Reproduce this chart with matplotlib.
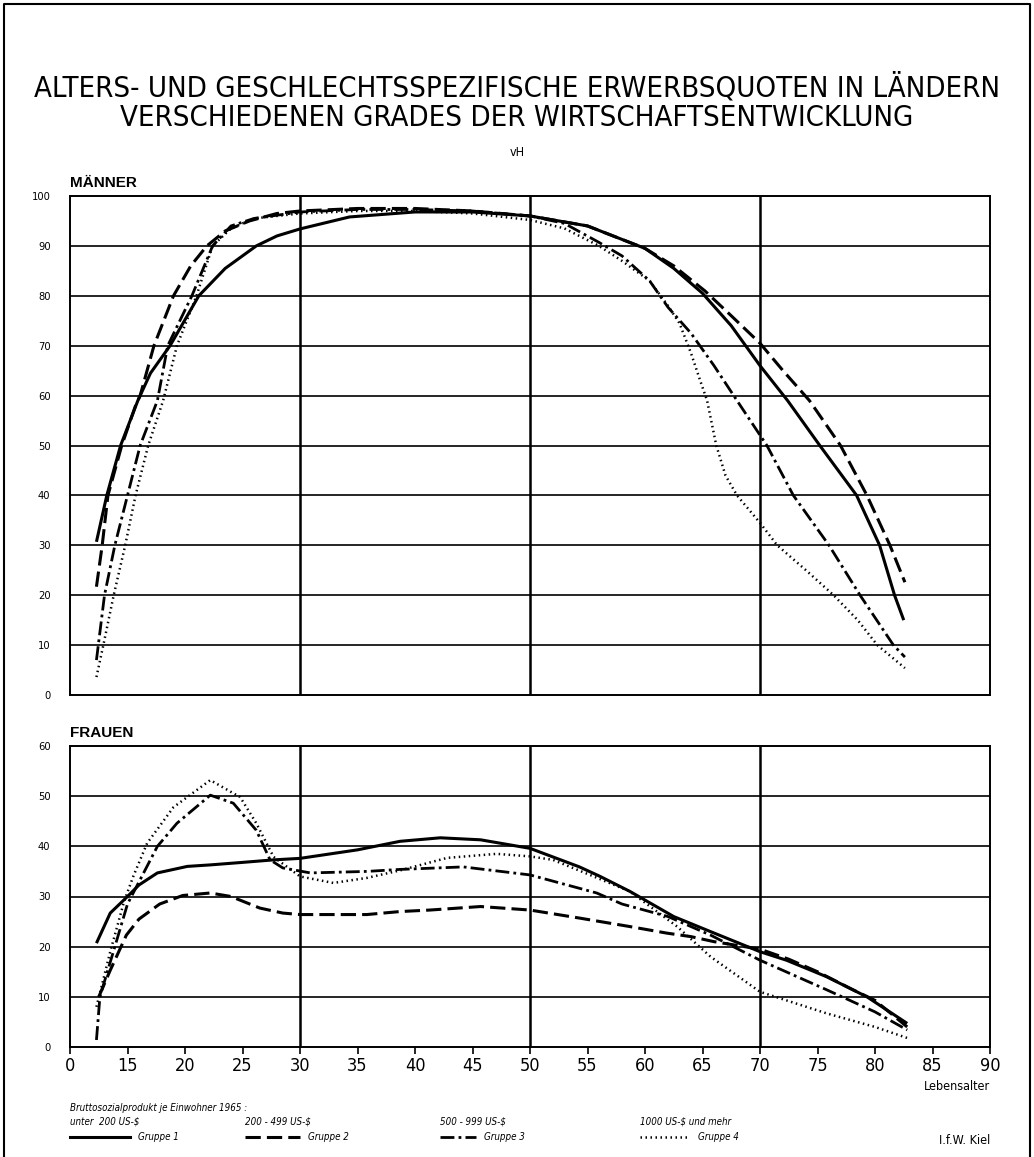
import matplotlib
matplotlib.use('Agg')
import matplotlib.pyplot as plt
from matplotlib import font_manager
from matplotlib.lines import Line2D

# look for a narrow face, else use Liberation Sans
narrow = None
for f in font_manager.fontManager.ttflist:
    if 'Narrow' in f.name or f.stretch in ('condensed', 'semi-condensed', 'extra-condensed'):
        narrow = f
        break
if narrow is not None:
    plt.rcParams['font.family'] = [narrow.name, 'DejaVu Sans']
    plt.rcParams['font.stretch'] = narrow.stretch
    title_fs = 21
else:
    plt.rcParams['font.family'] = ['Liberation Sans', 'DejaVu Sans']
    title_fs = 18.5

# Männer
m1_age = [12.3, 13.2, 14.4, 15.9, 17, 18.7, 21.2, 23.5, 26.2, 28, 30, 34.3, 40, 45, 50, 55, 60, 62.5, 65, 67.5, 70, 72.4, 75.2, 78.4, 80.4, 81.7, 82.5]
m1_val = [30.7, 40, 50, 59, 64.5, 70, 80, 85.5, 90, 92, 93.4, 95.8, 96.8, 96.8, 96, 94, 89.5, 85.5, 80.5, 74, 66, 59, 50, 40, 30, 20, 15]
m2_age = [12.3, 12.8, 13.3, 14.5, 15.7, 16.1, 17.3, 19, 20.5, 21.9, 23.5, 25.6, 28, 30, 35, 40, 45, 50, 55, 60, 62.5, 65.2, 67.5, 70, 72, 74.3, 77, 79.3, 81.3, 82.6]
m2_val = [21.7, 30, 40, 50, 58, 60, 70, 80, 86, 90, 93, 95, 96.5, 97, 97.5, 97.5, 97, 96, 94, 89.5, 86, 81, 76, 70.5, 65, 59, 50, 40, 30, 22.6]
m3_age = [12.3, 13, 13.9, 15, 16.1, 17.6, 18.5, 20.6, 22.4, 24, 26, 30, 35, 40, 45, 50, 53, 56, 58, 60.4, 62, 64, 66, 68, 70.6, 72.9, 76, 78.7, 81.6, 82.6]
m3_val = [7, 20, 30, 40, 50, 59, 70, 80, 90, 94, 95.5, 96.8, 97.3, 97.3, 97, 96, 94.5, 90.7, 88, 83, 77.7, 72.5, 66, 59, 50, 40, 30, 20, 10, 7.6]
m4_age = [12.3, 12.9, 13.8, 14.8, 15.7, 16.8, 18.1, 19.3, 21, 22.4, 24, 26, 30, 35, 40, 45, 50, 53, 56, 58, 60.4, 62, 63, 64, 64.8, 65.4, 66.2, 67, 68, 70, 71.5, 74, 76.4, 78.5, 80.2, 82.6]
m4_val = [3.6, 10, 20, 30, 40, 50, 59, 70, 80, 90, 93.5, 95.5, 96.5, 97, 97, 96.5, 95.2, 93.5, 90, 87, 83, 78, 74.5, 68.5, 63, 59, 50, 44, 40, 34.5, 30, 25, 20, 15, 10, 5.4]

# Frauen
f1_age = [12.3, 13.5, 15, 16, 17.6, 20.2, 22.2, 25, 27.7, 30, 35, 38.7, 42.2, 45.7, 50, 54.3, 56.1, 58.7, 62.5, 65.7, 70, 72.3, 75.8, 79.3, 82.8]
f1_val = [20.7, 26.7, 30, 32.3, 34.7, 36, 36.3, 36.8, 37.3, 37.6, 39.3, 41, 41.7, 41.3, 39.6, 35.9, 34, 31, 26, 23, 19, 17.3, 14, 10, 4.7]
f2_age = [12.5, 13.5, 14.9, 16, 17.8, 19.8, 22.2, 24, 26.5, 28.5, 30, 35.8, 38.7, 41.3, 45.7, 50, 54.3, 58.7, 61.9, 64, 66, 70, 72.5, 75, 78, 80, 82.8]
f2_val = [10, 15.3, 22.3, 25.5, 28.5, 30.2, 30.7, 30, 27.7, 26.7, 26.4, 26.4, 27, 27.3, 28, 27.3, 25.7, 24, 22.7, 22, 21, 19.5, 17.5, 15, 11.5, 9.3, 4]
f3_age = [12.3, 12.6, 13.9, 15, 17.6, 19.3, 22.2, 24.2, 26.2, 27.4, 28.5, 30.9, 35.8, 38.7, 44.2, 50, 55.8, 58, 62, 65.7, 70, 75.8, 80, 82.8]
f3_val = [1.4, 10, 20, 28.5, 40, 44.6, 50.2, 48.6, 43.2, 37.3, 35.7, 34.7, 35, 35.4, 35.9, 34.3, 30.7, 28.5, 26, 22.3, 17.3, 11.4, 7, 3.4]
f4_age = [12.3, 13.5, 14.7, 15.5, 16.7, 19, 22.2, 24.8, 26.2, 27.7, 30, 32.9, 35.8, 38.7, 42.8, 47.1, 50, 52, 55, 58.7, 62.8, 65.7, 70, 75.8, 80, 82.8]
f4_val = [8, 19, 29, 34, 40.6, 47.8, 53.2, 49.8, 44.6, 37.9, 34, 32.7, 33.7, 35.2, 37.7, 38.5, 38, 37.3, 34.5, 31, 24, 18, 11, 6.7, 4, 1.8]

x_ticks = [10, 15, 20, 25, 30, 35, 40, 45, 50, 55, 60, 65, 70, 75, 80, 85, 90]
x_labels = ['0'] + [str(v) for v in x_ticks[1:]]
groups = ['Gruppe 1', 'Gruppe 2', 'Gruppe 3', 'Gruppe 4']
incomes = ['unter  200 US-$', '200 - 499 US-$', '500 - 999 US-$', '1000 US-$ und mehr']

styles = [dict(ls='-', lw=2.2),
          dict(ls=(0, (5, 2)), lw=2.2),
          dict(ls=(0, (5, 1.5, 1, 1.5)), lw=2.0),
          dict(ls=(0, (0.6, 1.4)), lw=1.8)]

W, H = 1034, 1157
fig = plt.figure(figsize=(W / 100, H / 100), dpi=100)

ax1 = fig.add_axes([70 / W, 1 - 695 / H, 920 / W, 499 / H])
ax2 = fig.add_axes([70 / W, 1 - 1047 / H, 920 / W, 301 / H])

men = [(m1_age, m1_val), (m2_age, m2_val), (m3_age, m3_val), (m4_age, m4_val)]
women = [(f1_age, f1_val), (f2_age, f2_val), (f3_age, f3_val), (f4_age, f4_val)]

for ax, data, ymax in [(ax1, men, 100), (ax2, women, 60)]:
    for (a, v), st in zip(data, styles):
        ax.plot(a, v, color='black', solid_capstyle='butt', dash_capstyle='butt', **st)
    ax.set_xlim(10, 90)
    ax.set_ylim(0, ymax)
    ax.set_yticks(range(0, ymax + 1, 10))
    for y in range(10, ymax, 10):
        ax.axhline(y, color='black', lw=1.2, zorder=0)
    for x in [30, 50, 70]:
        ax.axvline(x, color='black', lw=1.8, zorder=0)
    for s in ax.spines.values():
        s.set_linewidth(1.4)
    ax.tick_params(axis='y', length=0, labelsize=8, pad=14)

ax1.set_xticks([])
ax2.set_xticks(x_ticks)
ax2.set_xticklabels(x_labels)
ax2.tick_params(axis='x', length=5, width=1.2, labelsize=13, pad=2)

ax1.text(0, 1.012, 'MÄNNER', transform=ax1.transAxes, fontsize=11, fontweight='bold',
         family=['Liberation Sans', 'DejaVu Sans'], stretch='normal', va='bottom', ha='left')
ax2.text(0, 1.02, 'FRAUEN', transform=ax2.transAxes, fontsize=11, fontweight='bold',
         family=['Liberation Sans', 'DejaVu Sans'], stretch='normal', va='bottom', ha='left')

fig.text(517 / W, 1 - 88 / H, 'ALTERS- UND GESCHLECHTSSPEZIFISCHE ERWERBSQUOTEN IN LÄNDERN',
         ha='center', va='center', fontsize=title_fs)
fig.text(517 / W, 1 - 118 / H, 'VERSCHIEDENEN GRADES DER WIRTSCHAFTSENTWICKLUNG',
         ha='center', va='center', fontsize=title_fs)
fig.text(517 / W, 1 - 152 / H, 'vH', ha='center', va='center', fontsize=9)
fig.text(990 / W, 1 - 1086 / H, 'Lebensalter', ha='right', va='center', fontsize=9)

fig.text(70 / W, 1 - 1108 / H, 'Bruttosozialprodukt je Einwohner 1965 :', ha='left', va='center',
         fontsize=7, style='italic')
cols = [70, 245, 440, 640]
seg = [(70, 130), (245, 300), (440, 476), (640, 690)]
for x0, (s0, s1), inc, g, st in zip(cols, seg, incomes, groups, styles):
    fig.text(x0 / W, 1 - 1122 / H, inc, ha='left', va='center', fontsize=7, style='italic')
    fig.add_artist(Line2D([s0 / W, s1 / W], [1 - 1137 / H, 1 - 1137 / H], color='black',
                          transform=fig.transFigure, **st))
    fig.text((s1 + 8) / W, 1 - 1137 / H, g, ha='left', va='center', fontsize=7, style='italic')

fig.text(990 / W, 1 - 1140 / H, 'I.f.W. Kiel', ha='right', va='center', fontsize=9)

# outer frame
fig.add_artist(Line2D([4 / W, 4 / W, 1030 / W, 1030 / W], [0, 1 - 4 / H, 1 - 4 / H, 0],
                      color='black', lw=1.5, transform=fig.transFigure))

fig.savefig('out.png', dpi=100)
